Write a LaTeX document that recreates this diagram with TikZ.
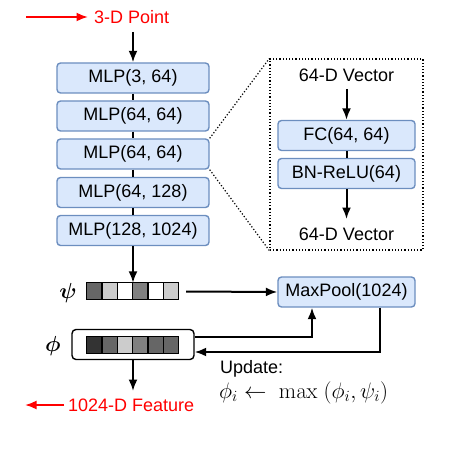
\documentclass[tikz,border=0pt]{standalone}
\usepackage{amsmath}
\usepackage{bm}
\usepackage[no-math]{fontspec}
\setmainfont{Liberation Sans}
\usetikzlibrary{arrows.meta,calc}
\definecolor{boxfill}{HTML}{DAE8FC}
\definecolor{boxline}{HTML}{6C8EBF}
\definecolor{g3}{HTML}{333333}
\definecolor{g6}{HTML}{666666}
\definecolor{g8}{HTML}{808080}
\definecolor{gc}{HTML}{CCCCCC}
\begin{document}
\begin{tikzpicture}[x=1pt,y=-1pt,
  every node/.style={font=\fontsize{18}{21}\selectfont, inner sep=0pt},
  blk/.style={draw=boxline, fill=boxfill, line width=1.4pt, rounded corners=3.5pt, minimum height=30pt},
  mlp/.style={blk, minimum width=152pt},
  inner/.style={blk, minimum width=137pt},
  arr/.style={line width=2pt, -{Latex[length=11.5pt,width=9pt]}},
  ln/.style={line width=2pt},
  redarr/.style={line width=2pt, red, -{Latex[length=11.5pt,width=9pt]}},
  bar/.style={minimum width=92pt, minimum height=17pt},
  cell/.style={line width=1.3pt},
  mathlab/.style={font=\fontsize{20.74}{25}\selectfont}
]
\useasboundingbox (0,0) rectangle (457,457);
% top input
\coordinate (r1a) at (26,17);
\coordinate (r1b) at (88,17);
\draw[redarr] (r1a) -- (r1b);
\node[anchor=west, text=red] (inlab) at (94,17) {3-D Point};
\coordinate (intop) at (133,32);
% MLP stack
\node[mlp] (m1) at (133,78) {MLP(3, 64)};
\node[mlp] (m2) at (133,116) {MLP(64, 64)};
\node[mlp] (m3) at (133,154) {MLP(64, 64)};
\node[mlp] (m4) at (133,192.5) {MLP(64, 128)};
\node[mlp] (m5) at (133,230.5) {MLP(128, 1024)};
\draw[arr] (intop) -- (m1.north);
\draw[ln] (m1) -- (m2);
\draw[ln] (m2) -- (m3);
\draw[ln] (m3) -- (m4);
\draw[ln] (m4) -- (m5);
% zoom box
\node[draw, dotted, line width=1.2pt, minimum width=153pt, minimum height=191pt] (zb) at (346.5,154.5) {};
\draw[dotted, line width=1.2pt] (m3.north east) -- (zb.north west);
\draw[dotted, line width=1.2pt] (m3.south east) -- (zb.south west);
\node (v1) at (346.5,75) {64-D Vector};
\node[inner] (fc) at (346.5,135.5) {FC(64, 64)};
\node[inner] (bn) at (346.5,173.5) {BN-ReLU(64)};
\node (v2) at (346.5,234) {64-D Vector};
\coordinate (v1b) at (346.5,89);
\coordinate (v2t) at (346.5,219);
\draw[arr] (v1b) -- (fc.north);
\draw[ln] (fc) -- (bn);
\draw[arr] (bn.south) -- (v2t);
% psi bar
\node[bar] (psi) at (133,291.5) {};
\foreach \c [count=\i from 0] in {g6,gc,white,g8,white,gc} {
  \fill[\c] ($(psi.north west)+(\i*92/6,0)$) rectangle ++(92/6,17);
  \draw[cell] ($(psi.north west)+(\i*92/6,0)$) rectangle ++(92/6,17);
}
\node[mathlab] (psilab) at (68,293) {\scalebox{1.05}{$\bm{\psi}$}};
\draw[arr] (m5.south) -- (psi.north);
% maxpool
\node[blk, minimum width=137pt] (mp) at (346.5,292) {MaxPool(1024)};
\draw[arr] ($(psi.east)+(7,0)$) -- (mp.west);
% phi box
\node[draw, line width=1.4pt, rounded corners=4pt, minimum width=122pt, minimum height=30pt] (phibox) at (133,344.5) {};
\node[bar] (phi) at (133,345.5) {};
\foreach \c [count=\i from 0] in {g3,g6,gc,g8,g6,g6} {
  \fill[\c] ($(phi.north west)+(\i*92/6,0)$) rectangle ++(92/6,17);
  \draw[cell] ($(phi.north west)+(\i*92/6,0)$) rectangle ++(92/6,17);
}
\node[mathlab] (philab) at (53,346) {\scalebox{1.05}{$\bm{\phi}$}};
\draw[arr] ($(phibox.east)+(0,-7.5)$) -| ($(mp.south)+(-34.5,0)$);
\draw[arr] ($(mp.south)+(33.5,0)$) |- ($(phibox.east)+(0,7.5)$);
% output
\coordinate (outb) at (133,391);
\draw[arr] (phibox.south) -- (outb);
\coordinate (r2a) at (64,405);
\coordinate (r2b) at (25,405);
\draw[redarr] (r2a) -- (r2b);
\node[anchor=west, text=red] (outlab) at (68,405) {1024-D Feature};
% update
\node[anchor=west] (upd) at (220,369) {Update:};
\node[anchor=base west, font=\fontsize{20.74}{25}\selectfont] (form) at (219,398) {\scalebox{1.08}{$\phi_i \leftarrow\ \max\ (\phi_i, \psi_i)$}};
\end{tikzpicture}
\end{document}
